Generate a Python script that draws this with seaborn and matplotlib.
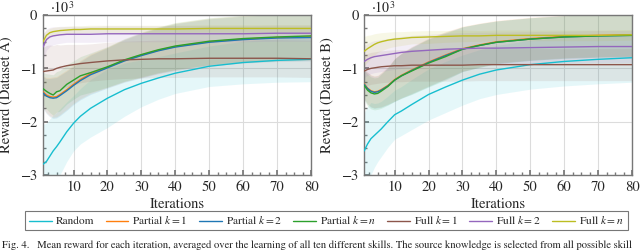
"""
Mean reward per iteration for the transfer strategies, datasets A and B.
"""

import numpy as np
import pandas as pd
import matplotlib
matplotlib.use("Agg")
import matplotlib.pyplot as plt
import seaborn as sns
from matplotlib.ticker import MultipleLocator

ITERS = [1, 2, 3, 4, 5, 6, 8, 10, 12, 15, 20, 25, 30, 35, 40, 50, 60, 70, 80]

METHODS = ["Random", r"Partial $k=1$", r"Partial $k=2$", r"Partial $k=n$",
           r"Full $k=1$", r"Full $k=2$", r"Full $k=n$"]
COLORS = ["#17becf", "#ff7f0e", "#1f77b4", "#2ca02c", "#8c564b", "#9467bd", "#bcbd22"]

# --- Dataset A (reward, x10^3) ---
A_RANDOM = [-2.80, -2.75, -2.65, -2.55, -2.47, -2.38, -2.19, -2.03, -1.90, -1.75,
            -1.56, -1.40, -1.28, -1.18, -1.09, -0.96, -0.89, -0.85, -0.83]
A_PART_1 = [-1.44, -1.50, -1.53, -1.54, -1.53, -1.49, -1.40, -1.30, -1.21, -1.10,
            -0.98, -0.85, -0.75, -0.66, -0.59, -0.50, -0.45, -0.42, -0.41]
A_PART_2 = [-1.46, -1.52, -1.55, -1.56, -1.55, -1.51, -1.42, -1.32, -1.23, -1.12,
            -0.99, -0.86, -0.76, -0.67, -0.60, -0.51, -0.46, -0.43, -0.42]
A_PART_N = [-1.38, -1.43, -1.47, -1.50, -1.44, -1.42, -1.30, -1.22, -1.14, -1.08,
            -0.97, -0.84, -0.74, -0.65, -0.58, -0.49, -0.44, -0.41, -0.39]
A_FULL_1 = [-1.06, -1.05, -1.04, -1.03, -1.00, -0.98, -0.95, -0.93, -0.91, -0.89,
            -0.86, -0.84, -0.83, -0.82, -0.82, -0.81, -0.81, -0.81, -0.82]
A_FULL_2 = [-0.60, -0.46, -0.41, -0.39, -0.38, -0.37, -0.36, -0.36, -0.36, -0.36,
            -0.35, -0.35, -0.35, -0.35, -0.35, -0.35, -0.35, -0.34, -0.34]
A_FULL_N = [-0.50, -0.38, -0.33, -0.31, -0.30, -0.29, -0.28, -0.27, -0.27, -0.26,
            -0.26, -0.26, -0.26, -0.26, -0.26, -0.25, -0.25, -0.25, -0.25]

A_RANDOM_SD = [0.75, 0.72, 0.70, 0.67, 0.64, 0.62, 0.56, 0.52, 0.52, 0.54,
               0.55, 0.50, 0.44, 0.40, 0.38, 0.38, 0.40, 0.41, 0.42]
A_PART_SD = [0.30, 0.33, 0.36, 0.38, 0.38, 0.38, 0.37, 0.36, 0.36, 0.37,
             0.38, 0.40, 0.42, 0.43, 0.44, 0.44, 0.44, 0.44, 0.44]
A_FULL_1_SD = [0.45, 0.48, 0.48, 0.46, 0.45, 0.42, 0.40, 0.38, 0.36, 0.35,
               0.35, 0.35, 0.35, 0.35, 0.35, 0.35, 0.35, 0.35, 0.35]
A_FULL_2_SD = [0.25, 0.20, 0.18, 0.17, 0.16, 0.16, 0.15, 0.15, 0.15, 0.15,
               0.15, 0.15, 0.15, 0.15, 0.15, 0.15, 0.15, 0.15, 0.15]
A_FULL_N_SD = [0.15, 0.10, 0.08, 0.08, 0.08, 0.07, 0.07, 0.07, 0.07, 0.07,
               0.07, 0.07, 0.07, 0.07, 0.07, 0.07, 0.07, 0.07, 0.07]

# --- Dataset B (reward, x10^3) ---
B_RANDOM = [-2.55, -2.42, -2.32, -2.26, -2.20, -2.14, -2.00, -1.87, -1.80, -1.68,
            -1.49, -1.35, -1.22, -1.11, -1.03, -0.93, -0.87, -0.83, -0.80]
B_PART_1 = [-1.29, -1.37, -1.42, -1.44, -1.43, -1.40, -1.32, -1.21, -1.13, -1.03,
            -0.88, -0.75, -0.63, -0.56, -0.50, -0.44, -0.40, -0.38, -0.37]
B_PART_2 = [-1.30, -1.38, -1.43, -1.45, -1.44, -1.41, -1.33, -1.22, -1.14, -1.04,
            -0.89, -0.76, -0.64, -0.57, -0.51, -0.45, -0.41, -0.39, -0.38]
B_PART_N = [-1.32, -1.41, -1.46, -1.48, -1.47, -1.43, -1.34, -1.22, -1.14, -1.05,
            -0.90, -0.78, -0.64, -0.57, -0.51, -0.45, -0.41, -0.39, -0.38]
B_FULL_1 = [-1.05, -1.02, -1.00, -0.99, -0.98, -0.97, -0.96, -0.95, -0.95, -0.94,
            -0.94, -0.94, -0.94, -0.93, -0.93, -0.93, -0.93, -0.93, -0.93]
B_FULL_2 = [-0.87, -0.83, -0.80, -0.78, -0.77, -0.76, -0.74, -0.72, -0.70, -0.68,
            -0.66, -0.64, -0.63, -0.62, -0.62, -0.61, -0.60, -0.59, -0.59]
B_FULL_N = [-0.68, -0.63, -0.59, -0.55, -0.52, -0.50, -0.47, -0.45, -0.44, -0.42,
            -0.41, -0.40, -0.39, -0.39, -0.38, -0.38, -0.38, -0.38, -0.37]

B_RANDOM_SD = [0.72, 0.70, 0.68, 0.60, 0.55, 0.52, 0.48, 0.46, 0.46, 0.47,
               0.48, 0.48, 0.47, 0.46, 0.46, 0.46, 0.46, 0.46, 0.46]
B_PART_SD = [0.28, 0.30, 0.30, 0.30, 0.30, 0.32, 0.35, 0.40, 0.42, 0.44,
             0.45, 0.44, 0.42, 0.41, 0.40, 0.40, 0.40, 0.40, 0.40]
B_FULL_1_SD = [0.30, 0.30, 0.30, 0.30, 0.30, 0.30, 0.30, 0.30, 0.30, 0.30,
               0.30, 0.30, 0.30, 0.30, 0.30, 0.30, 0.30, 0.30, 0.30]
B_FULL_2_SD = [0.30, 0.30, 0.30, 0.30, 0.30, 0.30, 0.30, 0.30, 0.30, 0.30,
               0.30, 0.30, 0.30, 0.30, 0.30, 0.30, 0.30, 0.30, 0.30]
B_FULL_N_SD = [0.28, 0.25, 0.22, 0.20, 0.18, 0.17, 0.15, 0.14, 0.13, 0.12,
               0.12, 0.11, 0.11, 0.10, 0.10, 0.10, 0.10, 0.10, 0.10]

CAPTION = ("Fig. 4.   Mean reward for each iteration, averaged over the learning of all ten "
           "different skills. The source knowledge is selected from all possible skill")


def long_frame(means, sds):
    rows = []
    for method, m, s in zip(METHODS, means, sds):
        for it, mv, sv in zip(ITERS, m, s):
            rows.append({"Iterations": it, "Reward": mv, "sd": sv, "Method": method})
    return pd.DataFrame(rows)


df_a = long_frame(
    [A_RANDOM, A_PART_1, A_PART_2, A_PART_N, A_FULL_1, A_FULL_2, A_FULL_N],
    [A_RANDOM_SD, A_PART_SD, A_PART_SD, A_PART_SD, A_FULL_1_SD, A_FULL_2_SD, A_FULL_N_SD],
)
df_b = long_frame(
    [B_RANDOM, B_PART_1, B_PART_2, B_PART_N, B_FULL_1, B_FULL_2, B_FULL_N],
    [B_RANDOM_SD, B_PART_SD, B_PART_SD, B_PART_SD, B_FULL_1_SD, B_FULL_2_SD, B_FULL_N_SD],
)

sns.set_theme(style="white")
# STIX ships with matplotlib: Times-like text, same as the LaTeX original
plt.rcParams["font.family"] = ["STIXGeneral", "DejaVu Serif"]
plt.rcParams["mathtext.fontset"] = "stix"
plt.rcParams["axes.unicode_minus"] = True

fig = plt.figure(figsize=(6.4, 2.52), dpi=100)
ax_a = fig.add_axes([0.0672, 0.306, 0.4188, 0.634])
ax_b = fig.add_axes([0.569, 0.306, 0.4185, 0.634])
palette = dict(zip(METHODS, COLORS))

for ax, df, label in [(ax_a, df_a, "Reward (Dataset A)"), (ax_b, df_b, "Reward (Dataset B)")]:
    for method in METHODS:
        sub = df[df["Method"] == method]
        ax.fill_between(sub["Iterations"], sub["Reward"] - sub["sd"], sub["Reward"] + sub["sd"],
                        color=palette[method], alpha=0.11, lw=0, zorder=1)
    sns.lineplot(data=df, x="Iterations", y="Reward", hue="Method", palette=palette,
                 hue_order=METHODS, linewidth=1.0, ax=ax, legend=False, zorder=3)
    ax.set_xlim(1, 80)
    ax.set_ylim(-3, 0)
    ax.xaxis.set_major_locator(MultipleLocator(10))
    ax.xaxis.set_minor_locator(MultipleLocator(2.5))
    ax.yaxis.set_major_locator(MultipleLocator(1))
    ax.yaxis.set_minor_locator(MultipleLocator(0.25))
    ax.grid(True, which="major", color="#dcdcdc", lw=0.8, zorder=0)
    ax.tick_params(which="both", direction="in", color="#777777", labelsize=10.5,
                   left=True, bottom=True, pad=4)
    ax.tick_params(which="major", length=3.5)
    ax.tick_params(which="minor", length=2)
    for sp in ax.spines.values():
        sp.set_color("#777777")
        sp.set_linewidth(1.0)
    ax.set_xlabel("Iterations", fontsize=10.5, labelpad=3)
    ax.set_ylabel(label, fontsize=10.5, labelpad=5)
    ax.text(0.025, 0.995, r"$\cdot10^3$", transform=ax.transAxes, fontsize=10,
            ha="left", va="bottom")

handles = [plt.Line2D([], [], color=c, lw=1.0) for c in COLORS]
leg = fig.legend(handles, METHODS, loc="center", bbox_to_anchor=(0.51, 0.125), ncol=7,
                 fontsize=8.2, frameon=True, fancybox=False, handlelength=2.0,
                 handletextpad=0.35, columnspacing=1.0, borderpad=0.35)
leg.get_frame().set_edgecolor("#555555")
leg.get_frame().set_linewidth(0.8)

fig.text(0.003, 0.045, CAPTION, fontsize=7.7, ha="left", va="top", color="#222222")

fig.savefig("out.png", dpi=100)
plt.close(fig)
